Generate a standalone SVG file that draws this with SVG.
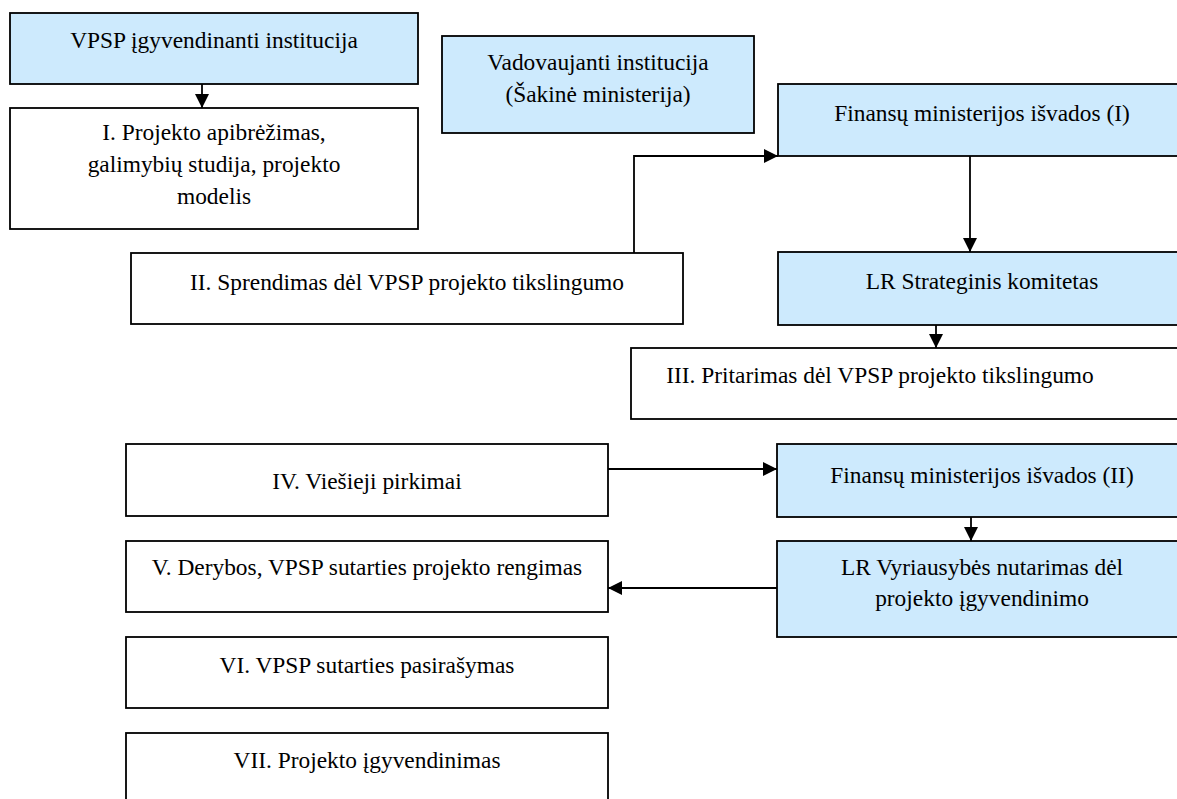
<svg xmlns="http://www.w3.org/2000/svg" width="1177" height="799" viewBox="0 0 1177 799">
  <style>
    .box { fill: #ffffff; stroke: #000000; stroke-width: 1.8; }
    .blue { fill: #cdeafd; }
    .lbl { font-family: "Liberation Serif", "Times New Roman", serif; font-size: 23.4px; fill: #000000; text-anchor: middle; }
    .conn { fill: none; stroke: #000000; stroke-width: 1.8; }
  </style>
  <defs>
    <marker id="arrow" viewBox="0 0 14 14" refX="14" refY="7" markerWidth="14" markerHeight="14" markerUnits="userSpaceOnUse" orient="auto">
      <path d="M0,0 L14,7 L0,14 Z" fill="#000000"/>
    </marker>
  </defs>
  <rect width="1177" height="799" fill="#ffffff"/>

  <g id="connectors">
    <line class="conn" x1="202" y1="84" x2="202" y2="108" marker-end="url(#arrow)"/>
    <path class="conn" d="M634,253 V156 H778" marker-end="url(#arrow)"/>
    <line class="conn" x1="970" y1="156" x2="970" y2="252" marker-end="url(#arrow)"/>
    <line class="conn" x1="936" y1="325" x2="936" y2="348" marker-end="url(#arrow)"/>
    <line class="conn" x1="608" y1="469" x2="777" y2="469" marker-end="url(#arrow)"/>
    <line class="conn" x1="971" y1="517" x2="971" y2="541" marker-end="url(#arrow)"/>
    <line class="conn" x1="777" y1="588" x2="608" y2="588" marker-end="url(#arrow)"/>
  </g>

  <g id="vpsp-institucija">
    <rect class="box blue" x="10" y="13" width="408" height="71"/>
    <text class="lbl" x="214" y="48">VPSP įgyvendinanti institucija</text>
  </g>
  <g id="etapas-1">
    <rect class="box" x="10" y="108" width="408" height="121"/>
    <text class="lbl" x="214" y="140">I. Projekto apibrėžimas,</text>
    <text class="lbl" x="214" y="172">galimybių studija, projekto</text>
    <text class="lbl" x="214" y="204">modelis</text>
  </g>
  <g id="vadovaujanti-institucija">
    <rect class="box blue" x="442" y="36" width="312" height="97"/>
    <text class="lbl" x="598" y="70">Vadovaujanti institucija</text>
    <text class="lbl" x="598" y="102">(Šakinė ministerija)</text>
  </g>
  <g id="finansu-isvados-1">
    <rect class="box blue" x="778" y="84" width="410" height="72"/>
    <text class="lbl" x="982" y="121">Finansų ministerijos išvados (I)</text>
  </g>
  <g id="etapas-2">
    <rect class="box" x="131" y="253" width="552" height="71"/>
    <text class="lbl" x="407" y="290">II. Sprendimas dėl VPSP projekto tikslingumo</text>
  </g>
  <g id="strateginis-komitetas">
    <rect class="box blue" x="778" y="252" width="410" height="73"/>
    <text class="lbl" x="982" y="289">LR Strateginis komitetas</text>
  </g>
  <g id="etapas-3">
    <rect class="box" x="631" y="348" width="557" height="71"/>
    <text class="lbl" x="880" y="383">III. Pritarimas dėl VPSP projekto tikslingumo</text>
  </g>
  <g id="etapas-4">
    <rect class="box" x="126" y="444" width="482" height="72"/>
    <text class="lbl" x="367" y="489">IV. Viešieji pirkimai</text>
  </g>
  <g id="finansu-isvados-2">
    <rect class="box blue" x="777" y="444" width="411" height="73"/>
    <text class="lbl" x="982" y="483">Finansų ministerijos išvados (II)</text>
  </g>
  <g id="etapas-5">
    <rect class="box" x="126" y="541" width="482" height="71"/>
    <text class="lbl" x="367" y="575">V. Derybos, VPSP sutarties projekto rengimas</text>
  </g>
  <g id="vyriausybes-nutarimas">
    <rect class="box blue" x="777" y="541" width="411" height="96"/>
    <text class="lbl" x="982" y="575">LR Vyriausybės nutarimas dėl</text>
    <text class="lbl" x="982" y="606">projekto įgyvendinimo</text>
  </g>
  <g id="etapas-6">
    <rect class="box" x="126" y="637" width="482" height="71"/>
    <text class="lbl" x="367" y="673">VI. VPSP sutarties pasirašymas</text>
  </g>
  <g id="etapas-7">
    <rect class="box" x="126" y="733" width="482" height="80"/>
    <text class="lbl" x="367" y="768">VII. Projekto įgyvendinimas</text>
  </g>
</svg>
